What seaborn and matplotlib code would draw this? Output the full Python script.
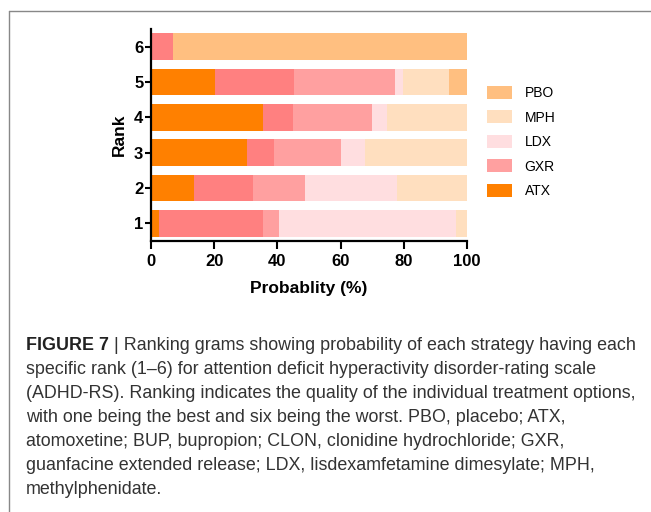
import matplotlib
matplotlib.use("Agg")
import matplotlib.pyplot as plt
from matplotlib.patches import Patch
from matplotlib.lines import Line2D
import seaborn as sns
import numpy as np
import pandas as pd

ranks = [1, 2, 3, 4, 5, 6]
treatments = ["ATX", "CLON", "GXR", "LDX", "MPH", "PBO"]
atx = [2.6, 13.7, 30.5, 35.6, 20.4, 0.0]
clon = [32.8, 18.6, 8.4, 9.2, 25.0, 6.9]
gxr = [5.1, 16.5, 21.1, 25.2, 31.7, 0.0]
ldx = [56.1, 29.1, 7.8, 4.7, 2.8, 0.0]
mph = [3.4, 22.1, 32.2, 25.3, 14.3, 0.0]
pbo = [0.0, 0.0, 0.0, 0.0, 5.8, 93.1]
legend_labels = ["PBO", "MPH", "LDX", "GXR", "ATX"]
xticks = [0, 20, 40, 60, 80, 100]

colors = {"ATX": "#FF8000", "CLON": "#FF8080", "GXR": "#FFA0A0",
          "LDX": "#FFDEE0", "MPH": "#FFDFBF", "PBO": "#FFBF80"}

series = {"ATX": atx, "CLON": clon, "GXR": gxr, "LDX": ldx, "MPH": mph, "PBO": pbo}
df = pd.DataFrame(series)
df["Rank"] = ranks
cum = df[treatments].cumsum(axis=1)
# bars end exactly at 100 per rank (last segment fills to 100)
cum[treatments[-1]] = 100.0
cum["Rank"] = ranks

sns.set_style("white")
plt.rcParams["font.family"] = ["Liberation Sans", "DejaVu Sans"]
plt.rcParams["text.color"] = "black"
plt.rcParams["axes.labelcolor"] = "black"
plt.rcParams["xtick.color"] = "black"
plt.rcParams["ytick.color"] = "black"

fig = plt.figure(figsize=(6.51, 5.12), dpi=100)
ax = fig.add_axes([151/651, 1-241/512, (467-151)/651, (241-29)/512])

for t in reversed(treatments):
    sns.barplot(data=cum, x=t, y="Rank", orient="h", native_scale=True,
                color=colors[t], width=0.75, linewidth=0, saturation=1, ax=ax)

ax.set_xlim(0, 100)
ax.set_ylim(0.5, 6.5)
ax.set_xticks(xticks)
ax.set_yticks(ranks)
ax.set_xticklabels([str(v) for v in xticks], fontsize=12, fontweight="bold")
ax.set_yticklabels([str(v) for v in ranks], fontsize=12, fontweight="bold")
ax.set_xlabel("Probablity (%)", fontsize=12.5, fontweight="bold", labelpad=9)
ax.set_ylabel("Rank", fontsize=12.5, fontweight="bold", labelpad=5)
for s in ["top", "right"]:
    ax.spines[s].set_visible(False)
for s in ["left", "bottom"]:
    ax.spines[s].set_linewidth(1.6)
    ax.spines[s].set_color("black")
ax.tick_params(axis="x", direction="out", length=6, width=1.5, color="black", pad=3, bottom=True)
ax.tick_params(axis="y", direction="out", length=4.5, width=1.5, color="black", pad=1, left=True)

handles = [Patch(facecolor=colors[l], edgecolor="none", label=l) for l in legend_labels]
fig.legend(handles=handles, loc="upper left", bbox_to_anchor=(487/651, 1-86/512),
           frameon=False, fontsize=10, handlelength=1.8, handleheight=1.05,
           labelspacing=0.74, handletextpad=0.9, borderaxespad=0, borderpad=0)

# frame lines
fig.add_artist(Line2D([9/651, 1.0], [1-11/512, 1-11/512], color="#888888", lw=1.0))
fig.add_artist(Line2D([9/651, 9/651], [1-11/512, 0.0], color="#888888", lw=1.0))

caption_lines = [
    "Ranking grams showing probability of each strategy having each",
    "specific rank (1\u20136) for attention deficit hyperactivity disorder-rating scale",
    "(ADHD-RS). Ranking indicates the quality of the individual treatment options,",
    "with one being the best and six being the worst. PBO, placebo; ATX,",
    "atomoxetine; BUP, bupropion; CLON, clonidine hydrochloride; GXR,",
    "guanfacine extended release; LDX, lisdexamfetamine dimesylate; MPH,",
    "methylphenidate.",
]
x0 = 26/651
fs = 12.9
y_first = 346
step = 24
t0 = fig.text(x0, 1-y_first/512, "FIGURE 7", fontsize=fs, fontweight="bold",
              va="center", ha="left", color="#222222")
fig.canvas.draw()
bb = t0.get_window_extent()
fig.text(bb.x1/651, 1-y_first/512, " | " + caption_lines[0], fontsize=fs,
         va="center", ha="left", color="#333333")
for i, line in enumerate(caption_lines[1:], start=1):
    fig.text(x0, 1-(y_first+i*step)/512, line, fontsize=fs, va="center",
             ha="left", color="#333333")

fig.savefig("out.png", dpi=100)
